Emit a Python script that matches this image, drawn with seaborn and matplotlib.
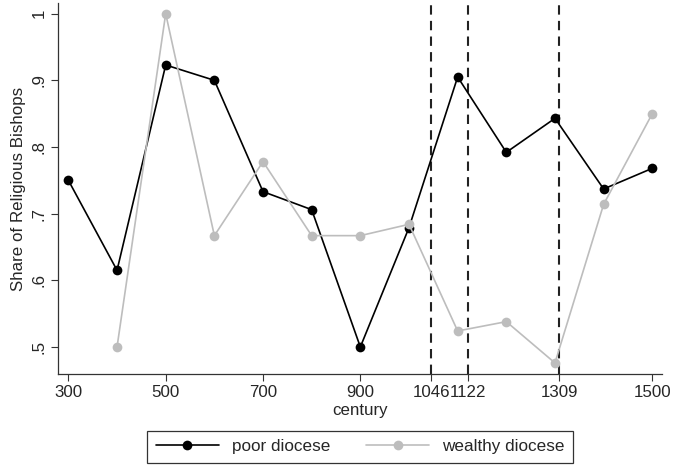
import matplotlib
matplotlib.use("Agg")
import matplotlib.pyplot as plt
import seaborn as sns
import numpy as np
import pandas as pd

# Share of religious bishops by century, poor vs wealthy dioceses
centuries = [300, 400, 500, 600, 700, 800, 900, 1000, 1100, 1200, 1300, 1400, 1500]
poor_share = [0.750, 0.615, 0.923, 0.900, 0.733, 0.706, 0.500, 0.679, 0.905, 0.792, 0.843, 0.737, 0.768]
wealthy_share = [np.nan, 0.500, 1.000, 0.667, 0.778, 0.667, 0.667, 0.684, 0.524, 0.538, 0.476, 0.714, 0.850]

# Reference years marked with dashed vertical lines
event_years = [1046, 1122, 1309]
x_ticks = [300, 500, 700, 900, 1046, 1122, 1309, 1500]
y_ticks = [0.5, 0.6, 0.7, 0.8, 0.9, 1.0]
y_tick_labels = [".5", ".6", ".7", ".8", ".9", "1"]

groups = ["poor diocese", "wealthy diocese"]

df = pd.concat([
    pd.DataFrame({"century": centuries, "share": poor_share, "group": groups[0]}),
    pd.DataFrame({"century": centuries, "share": wealthy_share, "group": groups[1]}),
]).dropna()

sns.set_style("ticks")
plt.rcParams["font.family"] = ["Liberation Sans", "DejaVu Sans"]

fig = plt.figure(figsize=(6.73, 4.68), dpi=100)
ax = fig.add_axes([0.0857, 0.2002, 0.898, 0.7934])

for yr in event_years:
    ax.axvline(yr, color="#222222", linewidth=1.5, linestyle=(0, (4.5, 3.0)), zorder=1)

sns.lineplot(
    data=df, x="century", y="share", hue="group", style="group",
    hue_order=groups, style_order=groups,
    palette={groups[0]: "black", groups[1]: "#bdbdbd"},
    markers={groups[0]: "o", groups[1]: "o"}, dashes=False,
    linewidth=1.2, markersize=7, markeredgewidth=0, ax=ax, zorder=3,
)

ax.set_xlim(278, 1520)
ax.set_ylim(0.459, 1.016)
ax.set_xticks(x_ticks)
ax.set_xticklabels([str(t) for t in x_ticks])
ax.set_yticks(y_ticks)
ax.set_yticklabels(y_tick_labels, rotation=90, va="center")

ax.set_xlabel("century", fontsize=12.2, labelpad=1.5)
ax.set_ylabel("Share of Religious Bishops", fontsize=12.2, labelpad=4)
ax.tick_params(axis="both", labelsize=12.2, length=5, width=0.8, color="#333333", pad=3)

sns.despine(ax=ax)
for side in ("left", "bottom"):
    ax.spines[side].set_linewidth(0.9)
    ax.spines[side].set_color("#333333")

handles, labels = ax.get_legend_handles_labels()
ax.get_legend().remove()
leg = fig.legend(
    handles, labels, loc="lower center", bbox_to_anchor=(0.535, 0.011), ncol=2,
    fontsize=12.3, frameon=True, fancybox=False, edgecolor="black",
    handlelength=3.7, columnspacing=2.1, handletextpad=0.75, borderpad=0.5,
    borderaxespad=0.0,
)
leg.get_frame().set_linewidth(0.9)

fig.savefig("out.png", dpi=100)
